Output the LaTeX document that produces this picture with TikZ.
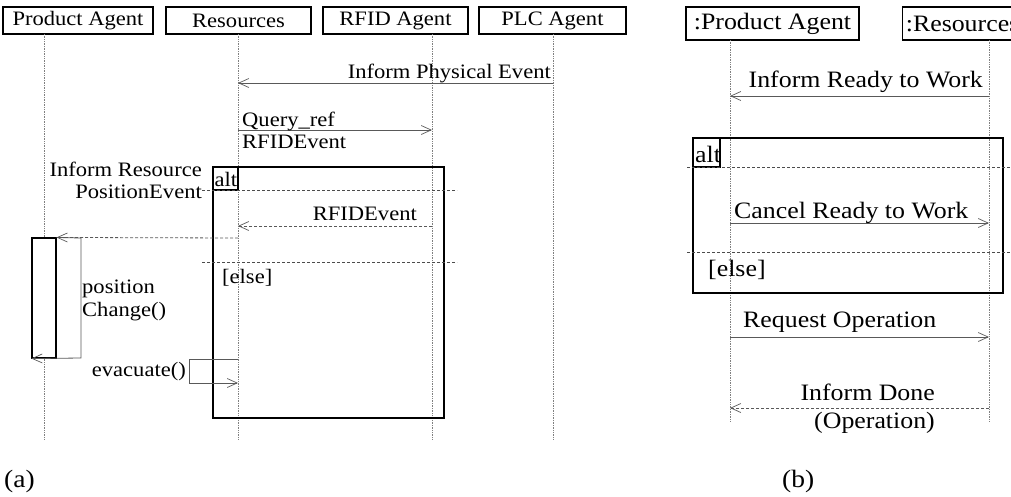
\documentclass[tikz,border=0pt]{standalone}
\usepackage{fontspec}
\setmainfont{Liberation Serif}[FakeStretch=1.1]
\usetikzlibrary{arrows.meta}
\tikzset{
  fa/.style={font=\fontsize{20.5}{21.5}\selectfont},
  fb/.style={font=\fontsize{23.5}{28}\selectfont},
  fc/.style={font=\fontsize{25}{28}\selectfont},
  headbox/.style={draw=black, line width=1.1pt, inner sep=0pt},
  life/.style={draw=gray, densely dotted, line width=0.7pt},
  frame/.style={draw=black, line width=1.1pt},
  guard/.style={draw=black!70, densely dashed, line width=0.7pt},
  msg/.style={draw=black!65, line width=0.8pt, -{Straight Barb[length=10pt,width=9pt,line width=0.7pt]}},
  reply/.style={msg, densely dashed},
  lbl/.style={inner sep=0pt, text=black},
  bar/.style={draw=black, line width=1.1pt, fill=white}
}
\begin{document}
\begin{tikzpicture}[x=1pt,y=-1pt]
\useasboundingbox (0,0) rectangle (1011,496);
\clip (0,0) rectangle (1011,496);
% ================= (a) =================
\node[headbox, fa, minimum width=150pt, minimum height=27pt] (pa) at (78,20.5) {Product Agent};
\node[headbox, fa, minimum width=145pt, minimum height=27pt] (res) at (238.5,20.5) {Resources};
\node[headbox, fa, minimum width=145pt, minimum height=27pt] (rfid) at (395.5,20.5) {RFID Agent};
\node[headbox, fa, minimum width=147pt, minimum height=27pt] (plc) at (552.5,20.5) {PLC Agent};
\coordinate (l1t) at (44,34);  \coordinate (l1b) at (44,440);
\coordinate (l2t) at (238,34); \coordinate (l2b) at (238,440);
\coordinate (l3t) at (432,34); \coordinate (l3b) at (432,440);
\coordinate (l4t) at (553,34); \coordinate (l4b) at (553,440);
\draw[life] (l1t) -- (l1b);
\draw[life] (l2t) -- (l2b);
\draw[life] (l3t) -- (l3b);
\draw[life] (l4t) -- (l4b);
% alt frame
\node[frame, minimum width=231pt, minimum height=251pt, inner sep=0pt] (altA) at (328.5,292.5) {};
\node[frame, minimum width=25pt, minimum height=23pt, inner sep=0pt] (altAl) at (225.5,178.5) {};
\node[lbl, fa, anchor=base west] (altAt) at (214.5,186) {alt};
\coordinate (ga1) at (202,190); \coordinate (ga2) at (457,190);
\draw[guard] (ga1) -- (ga2);
\coordinate (gb1) at (202,262); \coordinate (gb2) at (457,262);
\draw[guard] (gb1) -- (gb2);
\node[lbl, fa, anchor=base west] (elseA) at (222,283) {[else]};
% messages
\coordinate (m1s) at (553,83); \coordinate (m1e) at (238,83);
\draw[msg] (m1s) -- (m1e);
\node[lbl, fa, anchor=base east] (m1l) at (551,78) {Inform Physical Event};
\coordinate (m2s) at (238,130); \coordinate (m2e) at (432,130);
\draw[msg] (m2s) -- (m2e);
\node[lbl, fa, anchor=base west] (m2a) at (242,126) {Query\_ref};
\node[lbl, fa, anchor=base west] (m2b) at (242,148) {RFIDEvent};
\node[lbl, fa, anchor=base east, align=right] (ire) at (202,198) {Inform Resource\\PositionEvent};
\coordinate (m3s) at (432,226); \coordinate (m3e) at (238,226);
\draw[reply] (m3s) -- (m3e);
\node[lbl, fa, anchor=base east] (m3l) at (417,220) {RFIDEvent};
% activation bar
\node[bar, minimum width=24pt, minimum height=120pt, inner sep=0pt] (act) at (44,298) {};
\coordinate (m4s) at (238,238);
\draw[reply] (m4s) -- (act.north east);
\coordinate (sl1) at (81,238); \coordinate (sl2) at (81,358);
\draw[msg] (act.north east) -- (sl1) -- (sl2) -- (act.south west);
\node[lbl, font=\fontsize{20.5}{23}\selectfont, anchor=base west, align=left] (pc) at (82,316) {position\\Change()};
\coordinate (ev0) at (238,359); \coordinate (ev1) at (189,359);
\coordinate (ev2) at (189,383); \coordinate (ev3) at (238,383);
\draw[msg] (ev0) -- (ev1) -- (ev2) -- (ev3);
\node[lbl, fa, anchor=base east] (evl) at (186,376) {evacuate()};
\node[lbl, fc, anchor=base west] (capa) at (4,487) {(a)};
% ================= (b) =================
\node[headbox, fb, minimum width=173pt, minimum height=33pt] (bpa) at (772.5,23.5) {:Product Agent};
\node[headbox, fb, minimum width=118pt, minimum height=33pt, anchor=west] (bres) at (902,23.5) {\hspace*{2pt}:Resources\hfill};
\coordinate (b1t) at (730,40); \coordinate (b1b) at (730,422);
\coordinate (b2t) at (989,40); \coordinate (b2b) at (989,422);
\draw[life] (b1t) -- (b1b);
\draw[life] (b2t) -- (b2b);
\node[frame, minimum width=310pt, minimum height=155pt, inner sep=0pt] (altB) at (848,215.5) {};
\node[frame, minimum width=27pt, minimum height=29pt, inner sep=0pt] (altBl) at (706.5,152.5) {};
\node[lbl, fb, anchor=base west] (altBt) at (695,162) {alt};
\coordinate (gc1) at (687,167); \coordinate (gc2) at (1011,167);
\draw[guard] (gc1) -- (gc2);
\coordinate (gd1) at (687,252); \coordinate (gd2) at (1011,252);
\draw[guard] (gd1) -- (gd2);
\node[lbl, fb, anchor=base west] (elseB) at (708,276) {[else]};
\coordinate (n1s) at (989,96); \coordinate (n1e) at (730,96);
\draw[msg] (n1s) -- (n1e);
\node[lbl, fb, anchor=base east] (n1l) at (983,87) {Inform Ready to Work};
\coordinate (n2s) at (730,223); \coordinate (n2e) at (989,223);
\draw[msg] (n2s) -- (n2e);
\node[lbl, fb, anchor=base west] (n2l) at (734,218) {Cancel Ready to Work};
\coordinate (n3s) at (730,337); \coordinate (n3e) at (989,337);
\draw[msg] (n3s) -- (n3e);
\node[lbl, fb, anchor=base west] (n3l) at (743,327) {Request Operation};
\coordinate (n4s) at (989,408); \coordinate (n4e) at (730,408);
\draw[reply] (n4s) -- (n4e);
\node[lbl, fb, anchor=base east, align=right] (n4l) at (935,428) {Inform Done\\(Operation)};
\node[lbl, fc, anchor=base west] (capb) at (782,487) {(b)};
\end{tikzpicture}
\end{document}
